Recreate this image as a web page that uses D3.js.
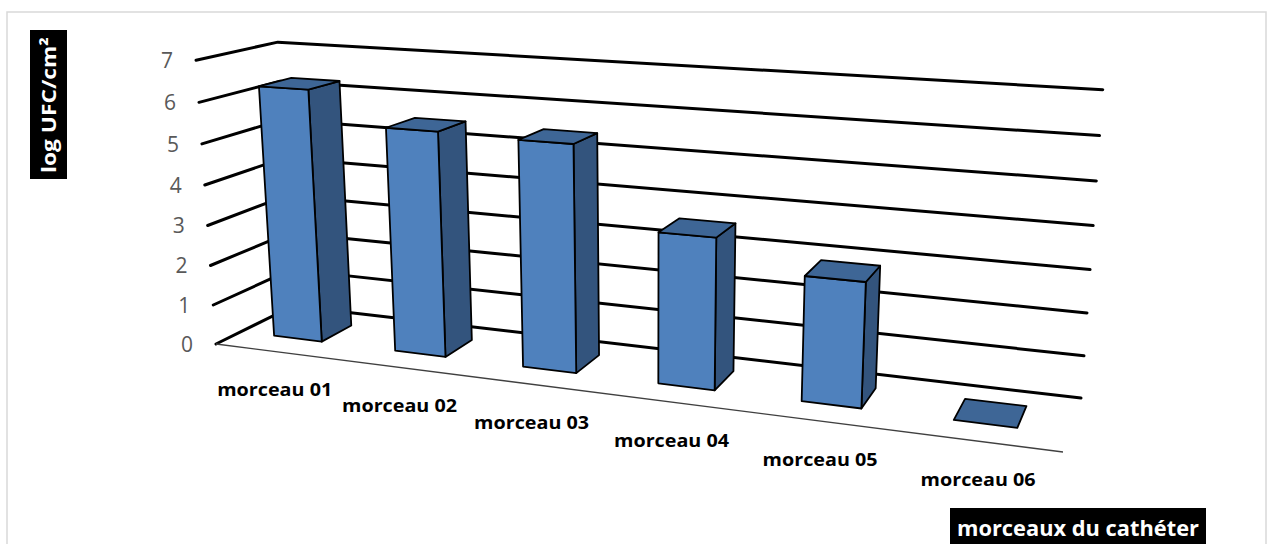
<!DOCTYPE html>
<html><head><meta charset="utf-8">
<script src="https://cdn.jsdelivr.net/npm/d3@7"></script>
<style>html,body{margin:0;padding:0;background:#fff;overflow:hidden}svg{display:block}text{font-family:"Open Sans",Lato,sans-serif}</style>
</head><body><svg id="c" width="1268" height="544"></svg>
<script>
const categories = ["morceau 01","morceau 02","morceau 03","morceau 04","morceau 05","morceau 06"];
const values = [6.28, 5.5, 5.45, 3.58, 2.9, 0];
const yTicks = [0,1,2,3,4,5,6,7];
const yTitle = "log UFC/cm²";
const xTitle = "morceaux du cathéter";
// camera: floor corners (front-left, front-right, back-right, back-left) and vertical vanishing point
const floorQuad = [[216,344],[1063,452],[1081,398],[293,306]];
const vanish = [650,6510];
const heightAtMax = 0.044;

function homography(q){
  const [[x0,y0],[x1,y1],[x2,y2],[x3,y3]] = q;
  const dx1=x1-x2, dx2=x3-x2, sx=x0-x1+x2-x3, dy1=y1-y2, dy2=y3-y2, sy=y0-y1+y2-y3;
  const det=dx1*dy2-dx2*dy1;
  const g=(sx*dy2-dx2*sy)/det, h=(dx1*sy-sx*dy1)/det;
  const a=x1-x0+g*x1, b=x3-x0+h*x3, d=y1-y0+g*y1, e=y3-y0+h*y3;
  return (u,v)=>[a*u+b*v+x0, d*u+e*v+y0, g*u+h*v+1];
}
const H=homography(floorQuad);
const heightScale=d3.scaleLinear().domain([0,d3.max(yTicks)]).range([0,heightAtMax]);
const project=(u,v,val)=>{const [X,Y,W]=H(u,v),s=heightScale(val);return [(X-s*vanish[0])/(W-s),(Y-s*vanish[1])/(W-s)];};

const xBand=d3.scaleBand().domain(categories).range([-0.003,0.997]).paddingInner(0.6).paddingOuter(0.3);
const depth=d3.scaleLinear().domain([0,1]).range([0.31,0.72]);

const svg=d3.select("#c");
svg.append("rect").attr("x",7).attr("y",12).attr("width",1259).attr("height",560).attr("fill","#fff").attr("stroke","#d9d9d9").attr("stroke-width",1.5);

const line=d3.line();
svg.append("g").selectAll("path").data(yTicks).join("path")
  .attr("d",h=>line([project(0,0,h),project(0,1,h),project(1,1,h)]))
  .attr("fill","none").attr("stroke","#000").attr("stroke-width",3).attr("stroke-linecap","round").attr("stroke-linejoin","round");
svg.append("path").attr("d",line([project(0,0,0),project(1,0,0)])).attr("fill","none").attr("stroke","#404040").attr("stroke-width",1.3);

svg.append("g").selectAll("text").data(yTicks).join("text")
  .attr("x",h=>project(0,0,h)[0]-23).attr("y",h=>project(0,0,h)[1]+8)
  .attr("text-anchor","end").attr("font-size",21).attr("fill","#595959").text(h=>h);

const bars=svg.append("g").selectAll("g").data(categories.map((k,i)=>({k,v:values[i]}))).join("g");
const faces=d=>{const u0=xBand(d.k);return {u0,u1:u0+xBand.bandwidth(),v0:depth(0),v1:depth(1)};};
const sl=d3.line().curve(d3.curveLinearClosed);
const sw=1.8;
bars.filter(d=>d.v>0).append("path").attr("d",d=>{const f=faces(d);return sl([project(f.u1,f.v0,0),project(f.u1,f.v1,0),project(f.u1,f.v1,d.v),project(f.u1,f.v0,d.v)]);})
  .attr("fill","#33547d").attr("stroke","#000").attr("stroke-width",sw).attr("stroke-linejoin","round");
bars.filter(d=>d.v>0).append("path").attr("d",d=>{const f=faces(d);return sl([project(f.u0,f.v0,0),project(f.u1,f.v0,0),project(f.u1,f.v0,d.v),project(f.u0,f.v0,d.v)]);})
  .attr("fill","#4f81bd").attr("stroke","#000").attr("stroke-width",sw).attr("stroke-linejoin","round");
bars.append("path").attr("d",d=>{const f=faces(d);return sl([project(f.u0,f.v0,d.v),project(f.u1,f.v0,d.v),project(f.u1,f.v1,d.v),project(f.u0,f.v1,d.v)]);})
  .attr("fill","#3e6696").attr("stroke","#000").attr("stroke-width",sw).attr("stroke-linejoin","round");

svg.append("g").selectAll("text").data(categories).join("text")
  .attr("x",k=>project(xBand(k)+xBand.bandwidth()/2,0,0)[0]+1)
  .attr("y",k=>project(xBand(k)+xBand.bandwidth()/2,0,0)[1]+45)
  .attr("text-anchor","middle").attr("font-size",18).attr("font-weight",700).attr("fill","#000")
  .attr("textLength",115).attr("lengthAdjust","spacingAndGlyphs").text(k=>k);

svg.append("rect").attr("x",30).attr("y",30).attr("width",37).attr("height",149).attr("fill","#000");
svg.append("text").attr("transform","translate(56,173) rotate(-90)").attr("font-size",20).attr("font-weight",700).attr("fill","#fff")
  .attr("textLength",136).attr("lengthAdjust","spacingAndGlyphs").text(yTitle);
svg.append("rect").attr("x",950).attr("y",508).attr("width",256).attr("height",36).attr("fill","#000");
svg.append("text").attr("x",957).attr("y",536).attr("font-size",21).attr("font-weight",700).attr("fill","#fff")
  .attr("textLength",242).attr("lengthAdjust","spacingAndGlyphs").text(xTitle);
</script></body></html>
